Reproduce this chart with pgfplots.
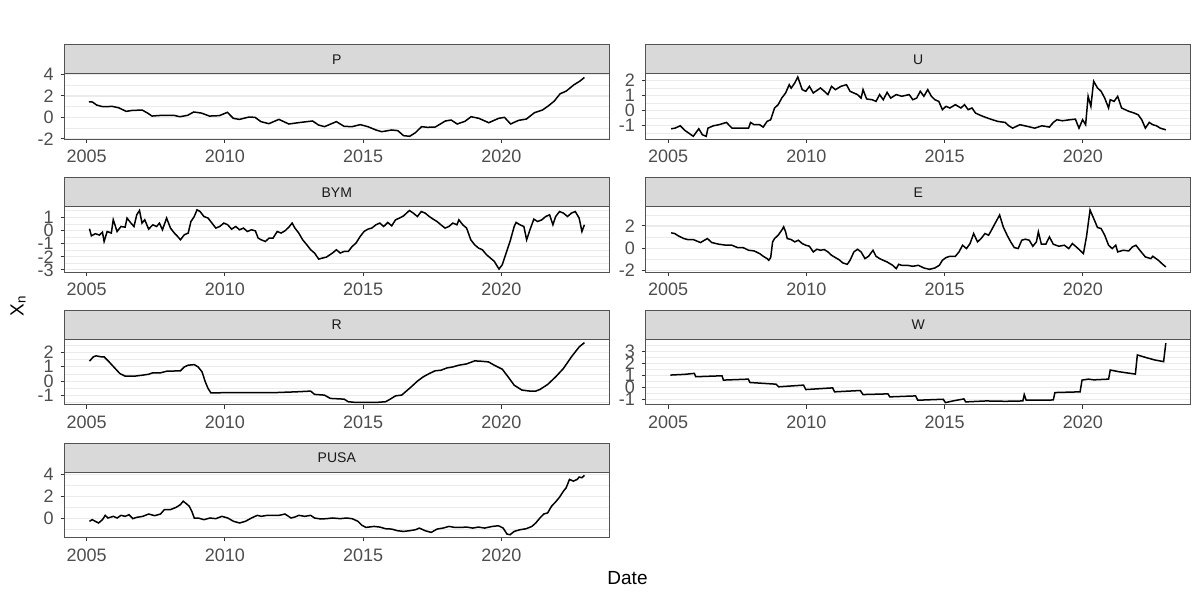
\documentclass[border=0pt]{standalone}
\usepackage{pgfplots}
\pgfplotsset{compat=1.18}
\usepackage{fontspec}
\setmainfont{Liberation Sans}

\definecolor{grey10}{HTML}{1A1A1A}
\definecolor{grey20}{HTML}{333333}
\definecolor{grey30}{HTML}{4D4D4D}
\definecolor{grey85}{HTML}{D9D9D9}
\definecolor{grey92}{HTML}{EBEBEB}

% one facet panel of the ggplot-like layout
\pgfplotsset{
  facet/.style={
    scale only axis, width=272.5pt, height=32.65pt, anchor=north west,
    xmin=2004.19, xmax=2023.9,
    xtick={2005,2010,2015,2020}, xticklabels={2005,2010,2015,2020},
    tick pos=left, tick align=outside,
    major tick length=1.85pt, minor tick length=0pt,
    tick style={grey20, line width=0.5pt},
    axis line style={grey20!85!white, line width=0.5pt},
    ymajorgrids, yminorgrids,
    major grid style={grey92, line width=0.6pt},
    minor grid style={grey92, line width=0.3pt},
    ticklabel style={font=\fontsize{9}{10}\selectfont, text=grey30},
  },
  series/.style={black, line width=0.75pt, mark=none},
}

\newcommand{\strip}[2]{%
  \draw[grey20!85!white, fill=grey85, line width=0.5pt] (#1.north west) rectangle ([yshift=14.5pt]#1.north east);
  \node[font=\fontsize{7}{8}\selectfont, text=grey10] at ([yshift=7.25pt]#1.north) {#2};
}

\begin{document}
\begin{tikzpicture}
\useasboundingbox (0,0) rectangle (600pt,300pt);

% ---- P
\begin{axis}[facet, name=P, at={(32.15pt,263pt)},
  ymin=-2.05, ymax=4.05, ytick={-2,0,2,4}, yticklabels={-2,0,2,4}, minor ytick={-1,1,3}]
\addplot[series] coordinates {
(2005.08,1.46)(2005.21,1.43)(2005.36,1.15)(2005.57,1.0)(2005.93,1.02)(2006.15,0.9)
(2006.43,0.56)(2006.65,0.65)(2007.01,0.68)(2007.22,0.37)(2007.36,0.12)(2007.72,0.19)
(2008.15,0.19)(2008.37,0.06)(2008.65,0.19)(2008.87,0.5)(2009.15,0.4)(2009.44,0.12)
(2009.8,0.16)(2010.09,0.47)(2010.3,-0.09)(2010.52,-0.19)(2010.87,0.03)(2011.09,0.0)
(2011.3,-0.4)(2011.59,-0.59)(2011.95,-0.19)(2012.31,-0.62)(2012.74,-0.47)(2013.17,-0.34)
(2013.38,-0.71)(2013.6,-0.87)(2014.03,-0.4)(2014.31,-0.84)(2014.6,-0.87)(2014.89,-0.68)
(2015.17,-0.87)(2015.46,-1.18)(2015.67,-1.34)(2016.03,-1.18)(2016.25,-1.24)(2016.46,-1.71)
(2016.68,-1.77)(2016.89,-1.43)(2017.11,-0.87)(2017.32,-0.93)(2017.61,-0.9)(2017.97,-0.34)
(2018.18,-0.25)(2018.4,-0.62)(2018.68,-0.37)(2018.9,0.06)(2019.18,-0.09)(2019.54,-0.5)
(2019.9,-0.09)(2020.11,0.0)(2020.33,-0.62)(2020.62,-0.28)(2020.9,-0.16)(2021.19,0.43)
(2021.48,0.68)(2021.69,1.06)(2021.91,1.52)(2022.12,2.2)(2022.34,2.45)(2022.62,3.04)
(2022.84,3.39)(2023.0,3.73)
};
\end{axis}
\strip{P}{P}

% ---- U
\begin{axis}[facet, name=U, at={(322.85pt,263pt)},
  ymin=-1.9, ymax=2.44, ytick={-1,0,1,2}, yticklabels={-1,0,1,2}, minor ytick={-1.5,-0.5,0.5,1.5}]
\addplot[series] coordinates {
(2005.11,-1.2)(2005.25,-1.16)(2005.44,-1.0)(2005.6,-1.3)(2005.91,-1.7)(2006.11,-1.2)
(2006.24,-1.6)(2006.38,-1.7)(2006.44,-1.16)(2006.64,-1.0)(2006.84,-0.93)(2007.11,-0.78)
(2007.31,-1.16)(2007.51,-1.16)(2007.91,-1.16)(2007.98,-0.78)(2008.11,-0.93)(2008.31,-0.93)
(2008.44,-1.09)(2008.58,-0.71)(2008.71,-0.6)(2008.85,0.18)(2008.98,0.4)(2009.11,0.84)
(2009.25,1.18)(2009.38,1.73)(2009.45,1.5)(2009.58,1.84)(2009.69,2.24)(2009.85,1.4)
(2009.98,1.29)(2010.11,1.62)(2010.25,1.18)(2010.51,1.51)(2010.65,1.29)(2010.78,1.07)
(2010.91,1.62)(2011.05,1.4)(2011.25,1.62)(2011.45,1.73)(2011.58,1.29)(2011.85,1.07)
(2011.98,0.84)(2012.05,1.4)(2012.18,0.78)(2012.38,0.73)(2012.52,0.62)(2012.65,1.07)
(2012.78,0.73)(2012.92,1.22)(2013.05,0.84)(2013.25,1.07)(2013.45,0.96)(2013.72,1.07)
(2013.85,0.73)(2013.99,0.84)(2014.12,1.29)(2014.25,0.96)(2014.39,1.4)(2014.52,0.96)
(2014.65,0.73)(2014.79,0.62)(2014.92,0.07)(2015.05,0.29)(2015.19,0.18)(2015.39,0.4)
(2015.59,0.18)(2015.72,0.4)(2015.85,0.07)(2015.99,0.18)(2016.12,-0.16)(2016.25,-0.27)
(2016.39,-0.38)(2016.66,-0.56)(2016.92,-0.71)(2017.19,-0.78)(2017.32,-1.0)(2017.46,-1.16)
(2017.72,-0.93)(2017.99,-1.04)(2018.26,-1.16)(2018.52,-1.0)(2018.79,-1.09)(2018.93,-0.78)
(2019.06,-0.6)(2019.26,-0.67)(2019.53,-0.6)(2019.73,-0.56)(2019.86,-1.16)(2019.99,-0.6)
(2020.1,-0.93)(2020.19,0.96)(2020.29,0.29)(2020.39,1.96)(2020.53,1.51)(2020.66,1.29)
(2020.79,0.84)(2020.93,0.18)(2020.99,0.73)(2021.13,0.62)(2021.26,0.96)(2021.4,0.18)
(2021.53,0.07)(2021.66,-0.04)(2021.86,-0.16)(2022.0,-0.27)(2022.13,-0.6)(2022.26,-1.16)
(2022.4,-0.78)(2022.53,-0.93)(2022.66,-1.0)(2022.8,-1.16)(2023.0,-1.27)
};
\end{axis}
\strip{U}{U}

% ---- BYM
\begin{axis}[facet, name=BYM, at={(32.15pt,196.6pt)},
  ymin=-3.17, ymax=1.8, ytick={-3,-2,-1,0,1}, yticklabels={-3,-2,-1,0,1}, minor ytick={-2.5,-1.5,-0.5,0.5,1.5}]
\addplot[series] coordinates {
(2005.1,0.13)(2005.17,-0.41)(2005.31,-0.25)(2005.46,-0.35)(2005.57,-0.13)(2005.63,-0.84)
(2005.74,-0.08)(2005.89,-0.2)(2005.96,0.81)(2006.1,-0.08)(2006.24,0.3)(2006.39,0.25)
(2006.46,0.94)(2006.6,0.56)(2006.71,0.3)(2006.81,1.19)(2006.91,1.52)(2007.0,0.56)
(2007.1,0.81)(2007.24,0.1)(2007.39,0.43)(2007.53,0.3)(2007.63,0.56)(2007.74,0.05)
(2007.89,0.94)(2008.03,0.18)(2008.17,-0.2)(2008.29,-0.46)(2008.39,-0.71)(2008.53,-0.33)
(2008.67,-0.2)(2008.77,0.68)(2008.89,1.06)(2008.99,1.57)(2009.1,1.44)(2009.24,1.06)
(2009.39,0.94)(2009.53,0.56)(2009.67,0.18)(2009.81,0.3)(2009.96,0.56)(2010.1,0.43)
(2010.24,0.1)(2010.39,0.3)(2010.53,0.05)(2010.67,0.18)(2010.81,-0.08)(2010.96,0.05)
(2011.1,-0.03)(2011.2,-0.58)(2011.31,-0.71)(2011.46,-0.84)(2011.6,-0.58)(2011.74,-0.58)
(2011.89,-0.08)(2012.03,-0.2)(2012.17,-0.03)(2012.31,0.25)(2012.43,0.56)(2012.53,0.18)
(2012.67,-0.2)(2012.81,-0.71)(2012.96,-1.09)(2013.1,-1.47)(2013.24,-1.72)(2013.39,-2.18)
(2013.53,-2.1)(2013.67,-2.03)(2013.89,-1.72)(2014.03,-1.47)(2014.17,-1.72)(2014.31,-1.6)
(2014.46,-1.6)(2014.6,-1.22)(2014.74,-0.96)(2014.89,-0.46)(2015.03,-0.08)(2015.17,0.1)
(2015.31,0.18)(2015.46,0.43)(2015.6,0.56)(2015.74,0.3)(2015.89,0.61)(2016.03,0.35)
(2016.17,0.81)(2016.31,0.94)(2016.46,1.11)(2016.67,1.52)(2016.81,1.32)(2016.96,1.06)
(2017.1,1.44)(2017.24,1.32)(2017.39,1.06)(2017.53,0.86)(2017.67,0.68)(2017.81,0.43)
(2017.96,0.18)(2018.1,0.3)(2018.24,0.56)(2018.39,0.43)(2018.46,0.81)(2018.6,0.43)
(2018.74,0.18)(2018.89,-0.71)(2019.03,-1.09)(2019.17,-1.34)(2019.31,-1.47)(2019.46,-1.85)
(2019.6,-2.1)(2019.74,-2.35)(2019.91,-2.94)(2020.03,-2.61)(2020.17,-1.72)(2020.31,-0.84)
(2020.46,0.3)(2020.53,0.61)(2020.67,0.43)(2020.81,0.3)(2020.91,-0.71)(2021.03,0.05)
(2021.17,0.86)(2021.31,0.68)(2021.46,0.81)(2021.6,1.06)(2021.74,1.19)(2021.86,0.43)
(2021.96,1.06)(2022.1,1.44)(2022.24,1.32)(2022.39,1.06)(2022.53,1.32)(2022.67,1.44)
(2022.81,0.94)(2022.91,-0.08)(2023.0,0.43)
};
\end{axis}
\strip{BYM}{BYM}

% ---- E
\begin{axis}[facet, name=E, at={(322.85pt,196.6pt)},
  ymin=-2.14, ymax=3.72, ytick={-2,0,2}, yticklabels={-2,0,2}, minor ytick={-1,1,3}]
\addplot[series] coordinates {
(2005.11,1.38)(2005.24,1.32)(2005.37,1.11)(2005.57,0.87)(2005.71,0.78)(2005.91,0.78)
(2006.17,0.51)(2006.42,0.87)(2006.58,0.51)(2006.84,0.36)(2007.11,0.27)(2007.31,0.27)
(2007.51,0.06)(2007.71,0.06)(2007.91,-0.18)(2008.11,-0.24)(2008.31,-0.48)(2008.44,-0.72)
(2008.58,-0.93)(2008.64,-1.08)(2008.71,-0.84)(2008.78,0.57)(2008.85,0.87)(2008.98,1.17)
(2009.11,1.62)(2009.18,1.92)(2009.25,1.47)(2009.31,0.87)(2009.45,0.78)(2009.58,0.57)
(2009.71,0.72)(2009.85,0.42)(2009.98,0.27)(2010.11,0.18)(2010.25,-0.33)(2010.38,-0.09)
(2010.51,-0.18)(2010.65,-0.12)(2010.78,-0.33)(2010.91,-0.63)(2011.05,-0.84)(2011.18,-1.02)
(2011.32,-1.32)(2011.48,-1.44)(2011.58,-1.08)(2011.72,-0.33)(2011.85,-0.09)(2011.98,-0.33)
(2012.12,-0.93)(2012.25,-0.72)(2012.41,-0.18)(2012.52,-0.72)(2012.65,-0.93)(2012.78,-1.08)
(2012.92,-1.23)(2013.12,-1.53)(2013.25,-1.83)(2013.34,-1.44)(2013.45,-1.53)(2013.65,-1.53)
(2013.85,-1.62)(2014.05,-1.53)(2014.25,-1.77)(2014.45,-1.89)(2014.65,-1.77)(2014.81,-1.53)
(2014.92,-1.08)(2015.05,-0.84)(2015.19,-0.72)(2015.39,-0.72)(2015.52,-0.33)(2015.65,0.27)
(2015.79,-0.03)(2015.92,0.42)(2016.05,1.32)(2016.19,0.57)(2016.32,0.87)(2016.46,1.32)
(2016.59,1.17)(2016.66,1.47)(2016.79,2.07)(2016.99,2.98)(2017.12,1.92)(2017.26,1.17)
(2017.39,0.57)(2017.52,0.06)(2017.66,-0.03)(2017.79,0.72)(2017.92,0.81)(2018.06,0.72)
(2018.19,0.18)(2018.32,0.57)(2018.39,1.47)(2018.5,0.36)(2018.66,0.36)(2018.79,1.02)
(2018.93,0.36)(2019.13,0.18)(2019.33,0.27)(2019.49,-0.03)(2019.62,0.42)(2019.79,0.06)
(2020.02,-0.48)(2020.13,1.02)(2020.26,3.43)(2020.39,2.68)(2020.53,1.86)(2020.66,1.77)
(2020.79,1.17)(2020.93,0.27)(2021.06,-0.03)(2021.19,0.27)(2021.26,-0.33)(2021.46,-0.18)
(2021.66,-0.24)(2021.79,0.12)(2021.92,0.27)(2022.06,-0.18)(2022.26,-0.78)(2022.46,-0.93)
(2022.53,-0.72)(2022.73,-1.08)(2022.86,-1.38)(2023.0,-1.68)
};
\end{axis}
\strip{E}{E}

% ---- R
\begin{axis}[facet, name=R, at={(32.15pt,130.2pt)},
  ymin=-1.65, ymax=2.89, ytick={-1,0,1,2}, yticklabels={-1,0,1,2}, minor ytick={-1.5,-0.5,0.5,1.5,2.5}]
\addplot[series] coordinates {
(2005.1,1.39)(2005.24,1.69)(2005.34,1.76)(2005.53,1.69)(2005.63,1.69)(2005.81,1.34)
(2006.03,0.88)(2006.2,0.53)(2006.39,0.35)(2006.74,0.35)(2007.03,0.42)(2007.24,0.48)
(2007.39,0.58)(2007.67,0.58)(2007.89,0.69)(2008.39,0.72)(2008.53,0.99)(2008.67,1.11)
(2008.89,1.15)(2009.03,0.99)(2009.17,0.65)(2009.29,-0.05)(2009.39,-0.51)(2009.49,-0.81)
(2009.67,-0.81)(2010.46,-0.79)(2011.17,-0.79)(2011.89,-0.79)(2012.6,-0.74)(2013.1,-0.69)
(2013.24,-0.92)(2013.6,-0.97)(2013.81,-1.2)(2014.31,-1.25)(2014.46,-1.43)(2014.74,-1.48)
(2015.46,-1.48)(2015.81,-1.43)(2015.96,-1.27)(2016.17,-1.02)(2016.39,-0.97)(2016.53,-0.74)
(2016.74,-0.39)(2016.96,0.0)(2017.17,0.3)(2017.39,0.53)(2017.6,0.72)(2017.81,0.76)
(2018.03,0.92)(2018.24,0.99)(2018.46,1.11)(2018.74,1.2)(2019.03,1.41)(2019.24,1.39)
(2019.53,1.34)(2019.74,1.11)(2020.03,0.83)(2020.24,0.3)(2020.46,-0.28)(2020.74,-0.62)
(2021.03,-0.69)(2021.24,-0.69)(2021.39,-0.58)(2021.67,-0.23)(2021.96,0.3)(2022.24,0.88)
(2022.53,1.69)(2022.81,2.38)(2023.0,2.68)
};
\end{axis}
\strip{R}{R}

% ---- W
\begin{axis}[facet, name=W, at={(322.85pt,130.2pt)},
  ymin=-1.45, ymax=4.0, ytick={-1,0,1,2,3}, yticklabels={-1,0,1,2,3}, minor ytick={-0.5,0.5,1.5,2.5,3.5}]
\addplot[series] coordinates {
(2005.08,1.04)(2005.6,1.1)(2005.95,1.18)(2006.0,0.9)(2006.95,0.98)(2007.0,0.62)
(2007.9,0.7)(2007.96,0.42)(2008.9,0.28)(2009.0,0.06)(2009.9,0.2)(2009.98,-0.17)
(2010.95,-0.03)(2011.02,-0.36)(2011.95,-0.25)(2012.05,-0.59)(2012.95,-0.53)(2013.02,-0.78)
(2013.95,-0.7)(2014.03,-1.06)(2014.95,-0.98)(2015.03,-1.26)(2015.3,-1.12)(2015.7,-0.95)
(2015.76,-1.2)(2016.5,-1.12)(2017.2,-1.15)(2017.83,-1.12)(2017.88,-0.59)(2017.95,-1.06)
(2018.93,-1.04)(2018.99,-0.42)(2019.9,-0.36)(2019.97,0.62)(2020.2,0.7)(2020.4,0.64)
(2020.93,0.7)(2020.99,1.46)(2021.3,1.32)(2021.9,1.12)(2021.97,2.72)(2022.3,2.49)
(2022.6,2.3)(2022.92,2.16)(2023.0,3.7)
};
\end{axis}
\strip{W}{W}

% ---- PUSA
\begin{axis}[facet, name=PUSA, at={(32.15pt,63.8pt)},
  ymin=-1.72, ymax=4.18, ytick={0,2,4}, yticklabels={0,2,4}, minor ytick={-1,1,3}]
\addplot[series] coordinates {
(2005.1,-0.24)(2005.2,-0.09)(2005.31,-0.24)(2005.43,-0.39)(2005.57,-0.09)(2005.67,0.3)
(2005.77,0.06)(2005.96,0.21)(2006.1,0.06)(2006.24,0.3)(2006.39,0.21)(2006.53,0.36)
(2006.67,0.0)(2006.81,0.12)(2007.03,0.21)(2007.24,0.42)(2007.46,0.27)(2007.67,0.42)
(2007.81,0.82)(2008.03,0.82)(2008.24,1.03)(2008.39,1.27)(2008.49,1.58)(2008.6,1.36)
(2008.71,1.12)(2008.81,0.61)(2008.89,0.06)(2009.03,0.06)(2009.24,-0.09)(2009.46,0.06)
(2009.67,0.0)(2009.89,0.21)(2010.1,0.06)(2010.31,-0.24)(2010.53,-0.39)(2010.74,-0.24)
(2010.96,0.06)(2011.17,0.3)(2011.31,0.21)(2011.53,0.3)(2011.74,0.3)(2011.96,0.3)
(2012.17,0.42)(2012.39,0.06)(2012.53,0.15)(2012.67,0.3)(2012.89,0.21)(2013.1,0.3)
(2013.24,0.06)(2013.46,-0.03)(2013.67,0.0)(2013.89,0.06)(2014.17,0.0)(2014.39,0.06)
(2014.6,0.0)(2014.81,-0.24)(2014.96,-0.61)(2015.1,-0.79)(2015.39,-0.7)(2015.6,-0.76)
(2015.81,-0.91)(2016.03,-0.94)(2016.24,-1.09)(2016.46,-1.15)(2016.67,-1.09)(2016.89,-1.0)
(2017.03,-0.85)(2017.24,-1.09)(2017.46,-1.24)(2017.67,-0.94)(2017.89,-0.85)(2018.1,-0.7)
(2018.31,-0.79)(2018.53,-0.79)(2018.74,-0.76)(2018.96,-0.85)(2019.17,-0.76)(2019.39,-0.85)
(2019.67,-0.7)(2019.89,-0.64)(2020.06,-0.85)(2020.2,-1.39)(2020.31,-1.45)(2020.46,-1.15)
(2020.67,-1.0)(2020.89,-0.91)(2021.1,-0.7)(2021.24,-0.39)(2021.39,0.06)(2021.53,0.42)
(2021.67,0.52)(2021.81,1.12)(2021.96,1.52)(2022.1,1.94)(2022.24,2.48)(2022.34,2.79)
(2022.46,3.55)(2022.6,3.39)(2022.74,3.55)(2022.81,3.76)(2022.91,3.7)(2023.0,3.91)
};
\end{axis}
\strip{PUSA}{PUSA}

% ---- axis titles
\node[font=\fontsize{9.5}{11}\selectfont, rotate=90] at (9pt,147pt) {X\textsubscript{n}};
\node[font=\fontsize{9.5}{11}\selectfont] at (313.75pt,11pt) {Date};
\end{tikzpicture}
\end{document}
